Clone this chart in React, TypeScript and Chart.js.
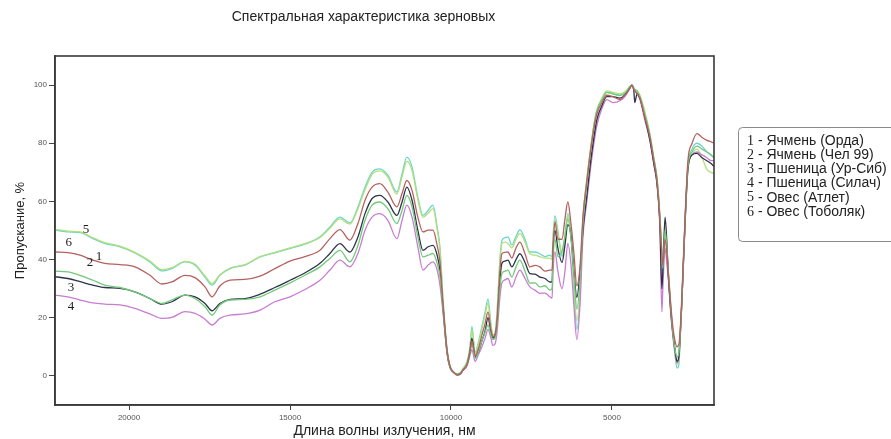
import React, { useEffect, useRef } from "react";
import { Chart, registerables } from "chart.js";

Chart.register(...registerables);

// ---------- data ----------
const chartTitle = "Спектральная характеристика зерновых";
const xAxisTitle = "Длина волны излучения, нм";
const yAxisTitle = "Пропускание, %";

const wavelengths = [
  22300, 21900, 21520, 21120, 20750, 20280, 19820, 19350, 18980, 18670,
  18260, 17950, 17640, 17420, 17180, 16860, 16400, 15930, 15470, 15000,
  14540, 14070, 13760, 13450, 13140, 12890, 12670, 12450, 12210, 11960,
  11680, 11520, 11370, 11210, 11030, 10870, 10710, 10560, 10430, 10340,
  10250, 10120, 10030, 9910, 9810, 9720, 9630, 9500, 9410, 9350,
  9250, 9160, 9040, 8940, 8850, 8760, 8700, 8630, 8570, 8480,
  8420, 8320, 8230, 8110, 7980, 7860, 7700, 7550, 7390, 7240,
  7080, 6930, 6860, 6830, 6770, 6680, 6550, 6460, 6370, 6270,
  6180, 6090, 5990, 5900, 5780, 5680, 5560, 5470, 5310, 5160,
  4970, 4750, 4570, 4440, 4380, 4320, 4290, 4220, 4130, 3980,
  3820, 3700, 3600, 3510, 3450, 3420, 3350, 3290, 3260, 3170,
  3100, 3040, 2980, 2920, 2890, 2830, 2730, 2640, 2510, 2360,
  2200, 2050, 1920, 1830,
];

// 1 - Ячмень (Орда)
const barleyOrda = [
  42.6, 42.4, 41.5, 39.8, 38.7, 38.3, 37.5, 34.6, 31.6, 32.3,
  34.6, 33.8, 30.6, 27.2, 30.9, 32.9, 33.2, 34.3, 36.9, 39.5,
  41.0, 43.2, 47.2, 50.3, 46.7, 52.4, 60.4, 64.9, 66.1, 63.2,
  58.1, 62.7, 67.2, 63.8, 54.6, 49.5, 50.1, 50.1, 44.9, 39.0,
  25.0, 8.5, 3.2, 1.2, 0.4, 0.6, 2.0, 4.0, 8.0, 12.0,
  7.0, 9.0, 14.0, 18.0, 22.0, 16.0, 13.5, 14.0, 19.0, 36.0,
  42.0, 42.5, 42.6, 40.5, 44.0, 46.0, 42.0, 37.5, 38.0, 37.5,
  36.0, 36.4, 36.4, 44.0, 53.0, 47.0, 47.0, 54.0, 59.8, 52.0,
  42.0, 31.0, 38.0, 55.0, 67.0, 76.0, 85.0, 90.0, 94.0, 96.5,
  96.0, 95.0, 97.0, 99.0, 100.0, 98.5, 98.0, 97.0, 95.5, 89.0,
  82.0, 74.0, 67.0, 54.0, 42.0, 38.0, 47.0, 42.0, 37.0, 24.0,
  16.0, 12.0, 10.0, 11.0, 14.0, 27.0, 54.0, 74.0, 80.0, 83.3,
  82.0, 81.0, 80.5, 80.0,
];

// 2 - Ячмень (Чел 99)
const barleyChel99 = [
  36.0, 35.8, 34.6, 32.9, 31.2, 30.4, 28.9, 26.6, 24.9, 26.1,
  27.8, 26.6, 23.8, 20.9, 24.4, 26.1, 26.3, 27.2, 29.5, 32.0,
  34.6, 37.5, 40.4, 43.2, 39.2, 44.9, 53.5, 58.7, 59.8, 57.5,
  52.4, 56.9, 62.1, 58.1, 47.8, 40.9, 41.5, 42.1, 38.7, 34.0,
  23.0, 8.0, 3.0, 1.2, 0.4, 0.6, 2.0, 4.0, 8.0, 11.0,
  6.0, 8.0, 12.0, 15.0, 17.5, 14.0, 12.5, 13.0, 17.0, 30.0,
  35.2, 36.0, 36.4, 34.0, 37.5, 39.8, 36.0, 31.9, 32.0, 30.6,
  31.0, 29.5, 30.0, 40.0, 47.0, 41.0, 43.0, 48.0, 54.0, 47.0,
  35.0, 23.0, 33.0, 52.0, 66.0, 76.0, 86.0, 91.0, 95.0, 97.5,
  97.0, 96.5, 97.5, 99.5, 100.0, 99.0, 98.5, 98.0, 96.0, 90.0,
  83.0, 75.0, 68.0, 55.0, 42.0, 37.0, 50.0, 44.0, 38.0, 23.0,
  14.0, 9.0, 6.5, 8.0, 12.0, 25.0, 53.0, 72.0, 77.0, 79.0,
  78.0, 77.0, 76.0, 75.0,
];

// 3 - Пшеница (Ур-Сиб)
const wheatUrSib = [
  34.1, 33.5, 32.4, 31.2, 30.4, 30.1, 28.9, 26.6, 24.7, 25.5,
  27.8, 27.2, 24.9, 22.4, 24.9, 26.3, 26.6, 28.1, 30.4, 32.9,
  35.4, 38.7, 42.1, 45.5, 42.6, 47.8, 55.8, 61.0, 62.1, 59.8,
  55.2, 59.8, 64.9, 60.4, 50.1, 43.2, 44.4, 44.9, 41.5, 36.0,
  24.0, 8.0, 3.0, 1.2, 0.4, 0.6, 2.0, 4.0, 8.5, 13.0,
  6.5, 8.0, 12.0, 15.5, 20.0, 15.0, 13.0, 14.0, 18.0, 33.0,
  38.7, 39.5, 39.8, 37.5, 40.0, 42.0, 39.0, 35.2, 35.0, 34.0,
  33.5, 32.3, 32.3, 43.0, 50.0, 44.0, 39.0, 45.0, 52.0, 48.0,
  36.0, 27.0, 36.0, 50.0, 62.0, 72.0, 82.0, 88.0, 93.0, 96.0,
  96.0, 95.5, 97.0, 99.0, 100.0, 98.0, 94.0, 97.0, 95.5, 89.0,
  81.0, 73.0, 66.0, 52.0, 30.0, 36.0, 54.6, 45.0, 37.0, 22.0,
  14.0, 9.0, 5.0, 7.0, 12.0, 25.0, 52.0, 71.0, 76.0, 76.5,
  75.0, 74.0, 73.0, 72.0,
];

// 4 - Пшеница (Силач)
const wheatSilach = [
  27.8, 27.2, 26.1, 25.1, 24.7, 24.4, 23.2, 21.3, 19.8, 20.1,
  22.1, 21.5, 19.5, 17.5, 19.8, 20.9, 21.3, 22.6, 25.5, 27.2,
  29.7, 32.9, 36.4, 39.8, 37.5, 42.1, 50.1, 54.6, 55.8, 53.5,
  47.2, 53.5, 58.7, 54.6, 44.4, 36.4, 38.1, 39.2, 36.4, 31.0,
  22.0, 7.5, 2.8, 1.0, 0.3, 0.5, 1.8, 3.5, 7.0, 9.0,
  5.0, 7.0, 10.0, 13.0, 16.0, 13.0, 10.5, 11.0, 15.0, 27.0,
  31.9, 33.0, 33.5, 30.6, 34.0, 36.4, 33.5, 30.6, 29.5, 28.4,
  28.5, 27.2, 26.7, 36.0, 42.6, 36.0, 30.0, 36.0, 45.6, 38.0,
  24.0, 12.5, 25.0, 48.0, 60.0, 70.0, 80.0, 86.0, 92.0, 95.0,
  94.0, 94.6, 96.5, 99.0, 100.0, 98.5, 98.0, 97.0, 95.0, 88.0,
  81.0, 73.0, 66.0, 52.0, 22.0, 30.0, 44.0, 38.0, 35.0, 21.0,
  13.0, 8.0, 4.5, 6.0, 11.0, 25.0, 53.0, 72.0, 76.0, 77.0,
  76.0, 75.0, 74.0, 74.0,
];

// 5 - Овес (Атлет)
const oatsAtlet = [
  50.4, 49.8, 49.5, 47.5, 45.8, 44.6, 42.5, 39.5, 36.5, 37.2,
  39.4, 38.4, 34.4, 31.8, 34.8, 37.1, 38.3, 41.0, 42.5, 44.0,
  45.5, 47.6, 50.8, 54.0, 52.2, 57.5, 64.0, 69.3, 70.5, 68.4,
  62.5, 68.5, 73.8, 70.6, 60.8, 54.5, 56.0, 57.5, 50.5, 43.0,
  26.5, 9.0, 3.4, 1.2, 0.7, 0.9, 2.4, 4.8, 9.6, 16.0,
  7.6, 10.5, 16.0, 21.0, 25.0, 17.0, 13.6, 14.5, 21.0, 39.0,
  45.5, 46.0, 45.5, 44.0, 47.0, 49.0, 46.0, 42.0, 41.5, 41.0,
  40.5, 40.5, 40.0, 47.0, 53.5, 49.0, 42.0, 48.0, 55.0, 48.0,
  31.0, 19.0, 30.0, 54.0, 68.0, 77.0, 86.5, 91.5, 95.5, 98.0,
  97.5, 97.0, 98.0, 99.5, 100.0, 99.0, 98.5, 98.0, 96.5, 91.0,
  83.0, 75.0, 68.0, 55.0, 43.0, 38.0, 49.0, 43.0, 37.5, 23.0,
  14.5, 8.0, 4.0, 5.5, 11.0, 26.0, 53.5, 71.0, 76.0, 78.0,
  75.0, 71.0, 70.0, 69.6,
];

// 6 - Овес (Тоболяк)
const oatsTobolyak = [
  50.1, 49.5, 49.3, 47.2, 45.5, 44.4, 42.3, 39.2, 36.1, 36.9,
  39.2, 38.1, 34.0, 31.2, 34.6, 36.9, 38.1, 40.9, 42.3, 43.8,
  45.3, 47.8, 51.2, 54.6, 52.6, 58.1, 64.9, 70.1, 71.2, 69.0,
  63.2, 69.5, 75.2, 71.8, 61.5, 55.2, 56.9, 58.7, 51.2, 44.0,
  27.0, 9.0, 3.5, 1.2, 0.8, 1.0, 2.5, 5.0, 10.0, 17.0,
  8.0, 11.0, 17.0, 22.0, 26.5, 18.0, 14.0, 15.0, 22.0, 40.0,
  46.5, 47.5, 47.8, 45.0, 48.0, 50.3, 47.0, 42.6, 42.6, 42.0,
  41.0, 41.5, 40.9, 48.0, 55.0, 50.0, 41.0, 48.0, 55.8, 48.0,
  30.0, 16.0, 28.0, 53.5, 67.0, 76.5, 86.0, 91.0, 95.0, 97.5,
  97.0, 96.4, 97.5, 99.5, 100.0, 99.0, 98.5, 98.0, 96.0, 90.0,
  82.0, 74.0, 67.0, 53.5, 40.0, 36.0, 48.0, 42.0, 36.4, 22.0,
  13.5, 7.0, 2.7, 4.0, 10.0, 25.0, 53.0, 72.0, 78.0, 80.0,
  79.0, 77.0, 76.0, 75.0,
];

const seriesNumbers = ["1", "2", "3", "4", "5", "6"];
const seriesNames = [
  "Ячмень (Орда)",
  "Ячмень (Чел 99)",
  "Пшеница (Ур-Сиб)",
  "Пшеница (Силач)",
  "Овес (Атлет)",
  "Овес (Тоболяк)",
];
const seriesValues = [barleyOrda, barleyChel99, wheatUrSib, wheatSilach, oatsAtlet, oatsTobolyak];

const yTickValues = [0, 20, 40, 60, 80, 100];
const xTickValues = [20000, 15000, 10000, 5000];

// numbered curve labels, anchored in data units (wavelength, %)
const curveLabelText = ["5", "6", "1", "2", "3", "4"];
const curveLabelWavelength = [21340, 21870, 20930, 21210, 21800, 21800];
const curveLabelValue = [50.4, 46.0, 41.2, 38.8, 30.5, 23.7];

// ---------- styles ----------
const seriesColors = ["#b5625e", "#72c97c", "#2d3448", "#c77dd0", "#b2df7c", "#6dd6c9"];
const SANS = "'Liberation Sans', Arial, sans-serif";
const SERIF = "'Liberation Serif', 'Times New Roman', serif";

const decorPlugin = {
  id: "decor",
  afterDatasetsDraw(chart: any) {
    const { ctx, chartArea: a, scales } = chart;
    ctx.save();
    // frame
    ctx.strokeStyle = "#3a3a3a";
    ctx.lineWidth = 1.6;
    ctx.strokeRect(a.left, a.top, a.right - a.left, a.bottom - a.top);
    // curve numbers
    ctx.fillStyle = "#1e1e1e";
    ctx.font = `13px ${SERIF}`;
    ctx.textAlign = "center";
    ctx.textBaseline = "middle";
    curveLabelText.forEach((t, i) => {
      ctx.fillText(
        t,
        scales.x.getPixelForValue(curveLabelWavelength[i]),
        scales.y.getPixelForValue(curveLabelValue[i])
      );
    });
    ctx.restore();
  },
  afterDraw(chart: any) {
    const { ctx, chartArea: a } = chart;
    ctx.save();
    // title
    ctx.fillStyle = "#222";
    ctx.font = `14px ${SANS}`;
    ctx.textAlign = "center";
    ctx.textBaseline = "middle";
    ctx.fillText(chartTitle, (a.left + a.right) / 2 - 21, 17);

    // legend box
    const lx = a.right + 24;
    const ly = a.top + 71;
    const lw = 170;
    const lh = 114;
    ctx.strokeStyle = "#8a8a8a";
    ctx.lineWidth = 1;
    ctx.beginPath();
    (ctx as any).roundRect(lx + 0.5, ly + 0.5, lw, lh, 4);
    ctx.stroke();
    ctx.textAlign = "left";
    ctx.textBaseline = "middle";
    seriesNames.forEach((name, i) => {
      const y = ly + 14 + i * 14.2;
      ctx.fillStyle = "#222";
      ctx.font = `14px ${SERIF}`;
      ctx.fillText(seriesNumbers[i], lx + 9, y);
      const w = ctx.measureText(seriesNumbers[i]).width;
      ctx.font = `14px ${SANS}`;
      ctx.fillText(" - " + name, lx + 9 + w, y);
    });
    ctx.restore();
  },
};

export default function App() {
  const canvasRef = useRef<HTMLCanvasElement | null>(null);

  useEffect(() => {
    if (!canvasRef.current) return;
    const datasets = seriesValues.map((vals, i) => ({
      label: `${seriesNumbers[i]} - ${seriesNames[i]}`,
      data: wavelengths.map((w, j) => ({ x: w, y: vals[j] })),
      borderColor: seriesColors[i],
      backgroundColor: seriesColors[i],
      borderWidth: 1.3,
      pointRadius: 0,
      cubicInterpolationMode: "monotone" as const,
      fill: false,
    }));

    const chart = new Chart(canvasRef.current, {
      type: "line",
      data: { datasets },
      options: {
        animation: false,
        responsive: true,
        maintainAspectRatio: false,
        layout: { padding: { top: 56, right: 177, left: 0, bottom: 0 } },
        plugins: {
          legend: { display: false },
          title: { display: false },
          tooltip: { enabled: false },
        },
        scales: {
          x: {
            type: "linear",
            reverse: true,
            min: 1830,
            max: 22300,
            afterFit: (s: any) => {
              s.height = 34;
            },
            afterBuildTicks: (s: any) => {
              s.ticks = xTickValues.map((v) => ({ value: v }));
            },
            ticks: {
              callback: (v: any) => String(v),
              font: { size: 8, family: SANS },
              color: "#555",
              padding: 3,
              maxRotation: 0,
            },
            grid: {
              display: true,
              drawOnChartArea: false,
              drawTicks: true,
              tickLength: 5,
              color: "#444",
            },
            border: { display: true, color: "#3a3a3a", width: 1.6 },
            title: {
              display: true,
              text: xAxisTitle,
              font: { size: 14, family: SANS },
              color: "#222",
              padding: { top: 0, bottom: -1 },
            },
          },
          y: {
            type: "linear",
            min: -10,
            max: 110,
            afterFit: (s: any) => {
              s.width = 55;
            },
            afterBuildTicks: (s: any) => {
              s.ticks = yTickValues.map((v) => ({ value: v }));
            },
            ticks: {
              callback: (v: any) => String(v),
              font: { size: 8, family: SANS },
              color: "#555",
              padding: 2,
            },
            grid: {
              display: true,
              drawOnChartArea: false,
              drawTicks: true,
              tickLength: 6,
              color: "#444",
            },
            border: { display: true, color: "#3a3a3a", width: 1.6 },
            title: {
              display: true,
              text: yAxisTitle,
              font: { size: 13, family: SANS },
              color: "#222",
              padding: { top: 13, bottom: 0 },
            },
          },
        },
      },
      plugins: [decorPlugin],
    });
    return () => chart.destroy();
  }, []);

  return (
    <div
      style={{
        position: "fixed",
        left: 0,
        top: 0,
        width: 891,
        height: 439,
        background: "#fff",
      }}
    >
      <canvas ref={canvasRef} />
    </div>
  );
}
